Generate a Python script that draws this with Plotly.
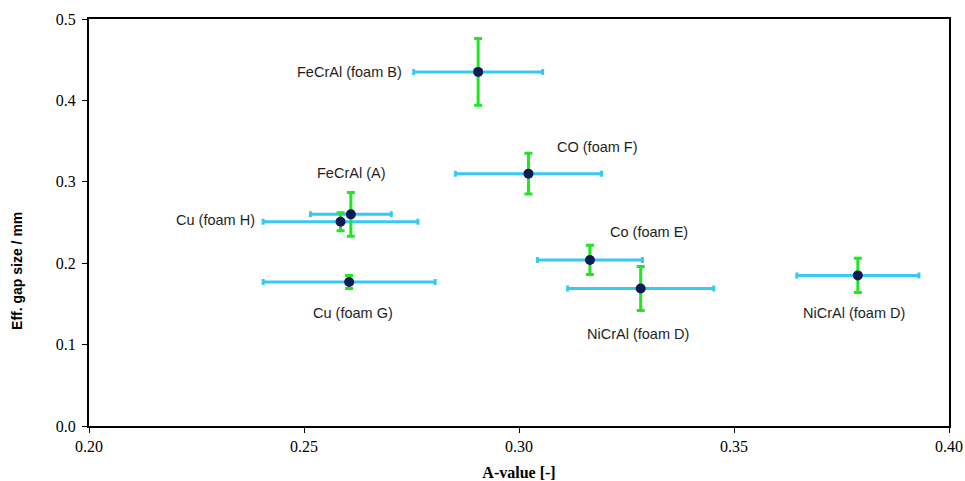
import plotly.graph_objects as go

# Data
labels = ["FeCrAl (foam B)", "FeCrAl (A)", "Cu (foam H)", "Cu (foam G)",
          "CO (foam F)", "Co (foam E)", "NiCrAl (foam D)", "NiCrAl (foam D)"]
a_value = [0.2905, 0.2609, 0.2585, 0.2605, 0.3022, 0.3165, 0.3283, 0.3788]
a_err = [0.0150, 0.0094, 0.0180, 0.0200, 0.0170, 0.0122, 0.0170, 0.0142]
gap = [0.435, 0.260, 0.251, 0.177, 0.310, 0.204, 0.169, 0.185]
gap_err = [0.041, 0.027, 0.011, 0.008, 0.025, 0.018, 0.027, 0.021]

# label offsets (pixels) relative to each point
label_dx = [-129, 0, -125, 4, 69, 59, -3, -4]
label_dy = [0, 41, 2, -31, 27, 28, -46, -38]

fig = go.Figure()

fig.add_trace(go.Scatter(
    x=a_value, y=gap, mode="markers",
    marker=dict(size=1, color="rgba(0,0,0,0)"),
    error_x=dict(type="data", array=a_err, visible=True,
                 color="#38c8f4", thickness=3, width=3),
    hoverinfo="skip", showlegend=False))

fig.add_trace(go.Scatter(
    x=a_value, y=gap, mode="markers",
    marker=dict(size=1, color="rgba(0,0,0,0)"),
    error_y=dict(type="data", array=gap_err, visible=True,
                 color="#1ee81e", thickness=3, width=4),
    hoverinfo="skip", showlegend=False))

fig.add_trace(go.Scatter(
    x=a_value, y=gap, mode="markers",
    marker=dict(size=10, color="#0b1d55"),
    text=labels, showlegend=False))

for lab, xv, yv, dx, dy in zip(labels, a_value, gap, label_dx, label_dy):
    fig.add_annotation(x=xv, y=yv, xref="x", yref="y", text=lab,
                       showarrow=False, xshift=dx, yshift=dy,
                       font=dict(family="Liberation Sans, Arial", size=14.5,
                                 color="#1e1e1e"))

# y-axis title (placed like the original, slightly below the plot centre)
fig.add_annotation(x=-0.083, y=0.38, xref="paper", yref="paper",
                   text="<b>Eff. gap size / mm</b>", textangle=-90,
                   showarrow=False, xanchor="center", yanchor="middle",
                   font=dict(family="Liberation Sans, Arial", size=14,
                             color="black"))

axis_common = dict(showline=True, linecolor="black", linewidth=2, mirror=True,
                   ticks="outside", ticklen=5, tickwidth=1, tickcolor="black",
                   showgrid=False, zeroline=False,
                   tickfont=dict(family="Liberation Serif, Times New Roman",
                                 size=16, color="black"))

fig.update_xaxes(range=[0.20, 0.40], dtick=0.05, tick0=0.2, tickformat=".2f",
                 title=dict(text="<b>A-value [-]</b>", standoff=14,
                            font=dict(family="Liberation Serif, Times New Roman",
                                      size=16, color="black")),
                 **axis_common)
fig.update_yaxes(range=[0.0, 0.5], dtick=0.1, tick0=0, tickformat=".1f",
                 ticklabelstandoff=3, **axis_common)

fig.update_layout(width=965, height=481,
                  margin=dict(l=89, r=16, t=19, b=55, autoexpand=False),
                  plot_bgcolor="white", paper_bgcolor="white")

fig.write_html("out.html")
